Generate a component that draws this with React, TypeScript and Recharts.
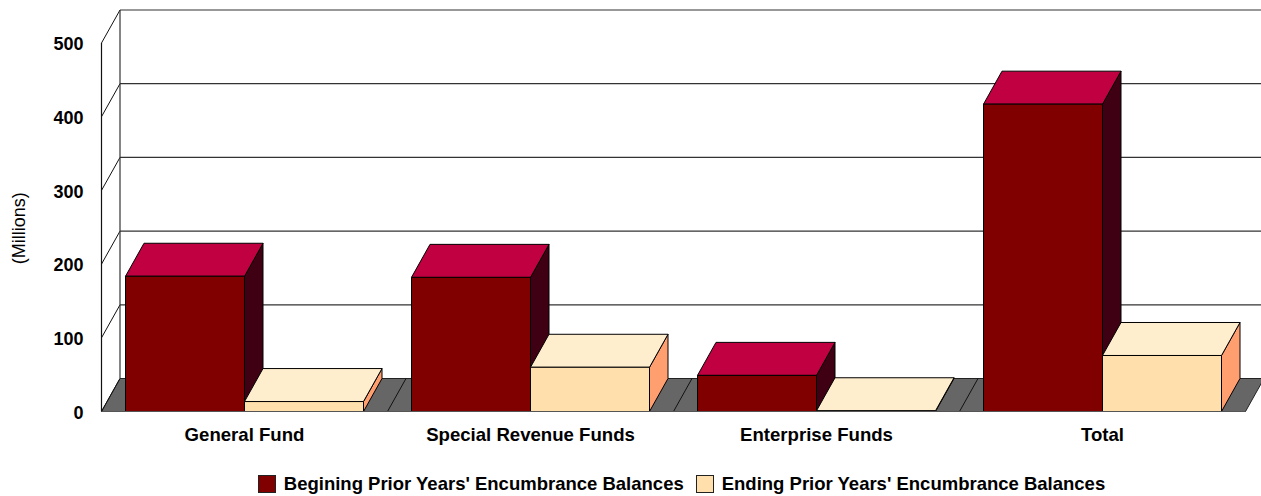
import { Bar, BarChart, CartesianGrid, Legend, XAxis, YAxis } from "recharts";

const categories = ["General Fund", "Special Revenue Funds", "Enterprise Funds", "Total"];
const beginingValues = [183.5, 182, 49, 417];
const endingValues = [13.5, 60, 1, 76];
const valueTicks = [0, 100, 200, 300, 400, 500];

const BEGINING_NAME = "Begining Prior Years' Encumbrance Balances";
const ENDING_NAME = "Ending Prior Years' Encumbrance Balances";

const FONT = "'Liberation Sans', Arial, sans-serif";
const DEPTH_X = 18.5;
const DEPTH_Y = 33;
const FLOOR = "#666666";

const DARK = { front: "#800000", top: "#C00040", side: "#400014" };
const LIGHT = { front: "#FFDFAC", top: "#FFEECE", side: "#FF9F70" };

const rows = categories.map((name, i) => ({
  name,
  begining: beginingValues[i],
  ending: endingValues[i],
}));

// front, top and right faces of one extruded column
function Box3D({ x, y, width, height, colors }: any) {
  const r = x + width;
  const b = y + height;
  const edge = { stroke: "#000", strokeWidth: 1, strokeLinejoin: "round" as const };
  return (
    <g>
      <path
        d={`M${r},${y}L${r + DEPTH_X},${y - DEPTH_Y}L${r + DEPTH_X},${b - DEPTH_Y}L${r},${b}Z`}
        fill={colors.side}
        {...edge}
      />
      <path
        d={`M${x},${y}L${x + DEPTH_X},${y - DEPTH_Y}L${r + DEPTH_X},${y - DEPTH_Y}L${r},${y}Z`}
        fill={colors.top}
        {...edge}
      />
      <rect x={x} y={y} width={width} height={height} fill={colors.front} {...edge} />
    </g>
  );
}

// each grid line runs along the back wall, with a slanted return to the front edge;
// the zero line also lays down the grey floor and its category dividers
function WallLine({ x1, x2, y1, y, height }: any) {
  const isFloor = Math.abs(y1 - (y + height)) < 0.5;
  const back = y1 - DEPTH_Y;
  const step = (x2 - x1) / categories.length;
  return (
    <g>
      {isFloor && (
        <>
          <path
            d={`M${x1},${y1}L${x1 + DEPTH_X},${back}L${x2 + DEPTH_X},${back}L${x2},${y1}Z`}
            fill={FLOOR}
            stroke="#222"
            strokeWidth={1}
          />
          {categories.slice(1).map((c, i) => (
            <line
              key={c}
              x1={x1 + step * (i + 1)}
              y1={y1}
              x2={x1 + step * (i + 1) + DEPTH_X}
              y2={back}
              stroke="#111"
              strokeWidth={1}
            />
          ))}
        </>
      )}
      {!isFloor && <line x1={x1 + DEPTH_X} y1={back} x2={x2 + DEPTH_X} y2={back} stroke="#333" strokeWidth={1.2} />}
      <line x1={x1} y1={y1} x2={x1 + DEPTH_X} y2={back} stroke="#111" strokeWidth={1} />
      {/* upright edges of the side and back walls */}
      {y1 === y && (
        <>
          <line x1={x1} y1={y1} x2={x1} y2={y + height} stroke="#111" strokeWidth={1.2} />
          <line x1={x1 + DEPTH_X} y1={back} x2={x1 + DEPTH_X} y2={y + height - DEPTH_Y} stroke="#333" strokeWidth={1.2} />
        </>
      )}
    </g>
  );
}

function LegendRow() {
  const items = [
    { label: BEGINING_NAME, color: DARK.front },
    { label: ENDING_NAME, color: LIGHT.front },
  ];
  return (
    <div
      style={{
        display: "flex",
        justifyContent: "center",
        gap: 12,
        paddingLeft: 102,
        fontFamily: FONT,
        fontWeight: 700,
        fontSize: 18.5,
      }}
    >
      {items.map((item) => (
        <div key={item.label} style={{ display: "flex", alignItems: "center", gap: 8, color: "#000" }}>
          <span style={{ width: 16, height: 16, background: item.color, border: "1px solid #222", display: "block" }} />
          <span>{item.label}</span>
        </div>
      ))}
    </div>
  );
}

export default function App() {
  return (
    <div style={{ position: "absolute", left: 0, top: 0, width: 1261, height: 496, overflow: "hidden", background: "#fff" }}>
      <BarChart
        width={1261}
        height={496}
        data={rows}
        margin={{ top: 43, right: 15.5, bottom: 54.5, left: 39.5 }}
        barSize={119}
        barGap={0}
      >
        <CartesianGrid vertical={false} horizontal={WallLine} />
        <XAxis
          dataKey="name"
          height={30}
          axisLine={{ stroke: "#555", strokeWidth: 1.2 }}
          tickLine={false}
          tickMargin={10}
          tick={{ fill: "#000", fontFamily: FONT, fontWeight: 700, fontSize: 18.6 }}
        />
        <YAxis
          width={62}
          domain={[0, 500]}
          ticks={valueTicks}
          axisLine={false}
          tickLine={false}
          tickMargin={12}
          tick={{ fill: "#000", fontFamily: FONT, fontWeight: 700, fontSize: 18, dy: 1 }}
          label={{
            value: "(Millions)",
            angle: -90,
            position: "insideLeft",
            dx: -26,
            dy: 1,
            style: { fill: "#000", fontFamily: FONT, fontSize: 18, textAnchor: "middle" },
          }}
        />
        <Legend
          layout="horizontal"
          verticalAlign="middle"
          wrapperStyle={{ top: 473, left: 0, width: 1261 }}
          content={() => <LegendRow />}
        />
        <Bar
          dataKey="begining"
          name={BEGINING_NAME}
          isAnimationActive={false}
          shape={(props: any) => <Box3D {...props} colors={DARK} />}
        />
        <Bar
          dataKey="ending"
          name={ENDING_NAME}
          isAnimationActive={false}
          shape={(props: any) => <Box3D {...props} colors={LIGHT} />}
        />
      </BarChart>
    </div>
  );
}
